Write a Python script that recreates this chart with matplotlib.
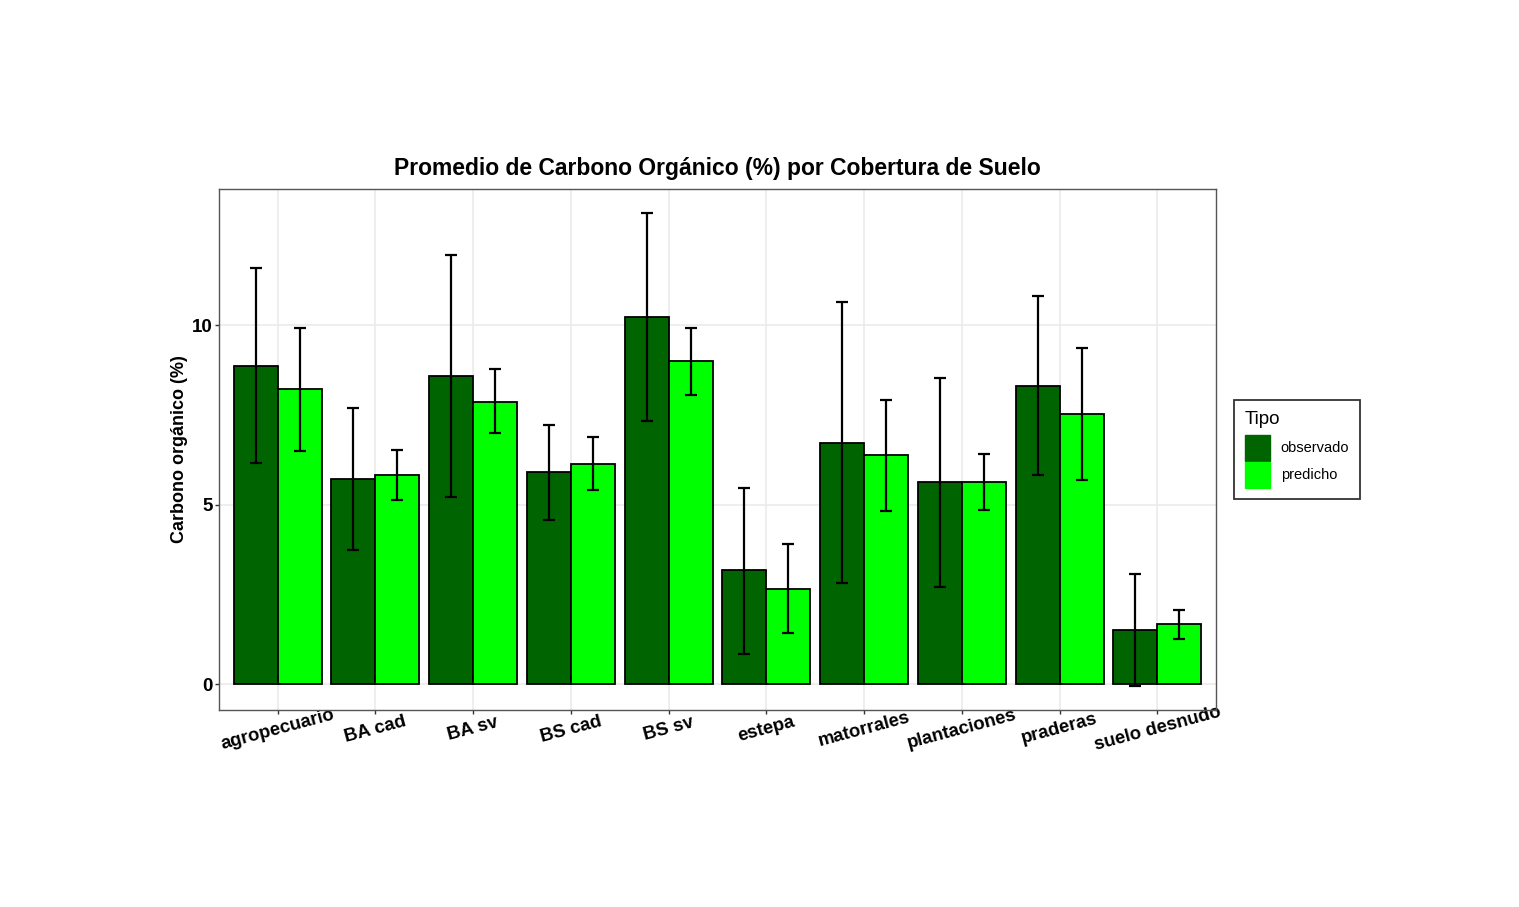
import matplotlib
matplotlib.use("Agg")
import matplotlib.pyplot as plt
import numpy as np
from matplotlib.patches import Patch

categories = ["agropecuario", "BA cad", "BA sv", "BS cad", "BS sv", "estepa",
              "matorrales", "plantaciones", "praderas", "suelo desnudo"]
obs_mean = [8.86, 5.72, 8.58, 5.92, 10.22, 3.17, 6.72, 5.64, 8.31, 1.50]
obs_lo   = [6.17, 3.75, 5.22, 4.58, 7.33, 0.83, 2.81, 2.72, 5.83, -0.06]
obs_hi   = [11.61, 7.69, 11.97, 7.22, 13.14, 5.47, 10.64, 8.53, 10.81, 3.06]
pred_mean = [8.22, 5.83, 7.86, 6.14, 9.00, 2.64, 6.39, 5.64, 7.53, 1.67]
pred_lo   = [6.50, 5.14, 7.00, 5.42, 8.06, 1.42, 4.83, 4.86, 5.69, 1.25]
pred_hi   = [9.94, 6.53, 8.78, 6.89, 9.94, 3.92, 7.92, 6.42, 9.36, 2.08]
yticks = [0, 5, 10]

plt.rcParams['font.family'] = ['Liberation Sans', 'DejaVu Sans']

fig = plt.figure(figsize=(15.19, 9.07), dpi=100)
ax = fig.add_axes([219/1519, 1-710/907, (1216-219)/1519, (710-189)/907])

x = np.arange(1, len(categories)+1)
w = 0.45
dark = "#006400"
light = "#00FF00"

ax.bar(x - w/2, obs_mean, width=w, color=dark, edgecolor="black", linewidth=1.3, zorder=3)
ax.bar(x + w/2, pred_mean, width=w, color=light, edgecolor="black", linewidth=1.3, zorder=3)

def errs(m, lo, hi):
    m = np.array(m); lo = np.array(lo); hi = np.array(hi)
    return np.vstack([m - lo, hi - m])

ax.errorbar(x - w/2, obs_mean, yerr=errs(obs_mean, obs_lo, obs_hi), fmt='none',
            ecolor='black', elinewidth=1.6, capsize=4.5, capthick=1.6, zorder=4)
ax.errorbar(x + w/2, pred_mean, yerr=errs(pred_mean, pred_lo, pred_hi), fmt='none',
            ecolor='black', elinewidth=1.6, capsize=4.5, capthick=1.6, zorder=4)

ax.set_xlim(0.4, len(categories) + 0.6)
ax.set_ylim(-0.72, 13.8)
ax.set_yticks(yticks)
ax.set_yticklabels([str(v) for v in yticks], fontsize=13.5, fontweight='bold')
ax.set_xticks(x)
ax.set_xticklabels(categories, rotation=15, fontsize=13.3, fontweight='bold',
                   ha='center', va='center', rotation_mode='anchor')
ax.tick_params(axis='both', length=2.8, color='#333333', width=1)
ax.tick_params(axis='x', pad=11)
ax.tick_params(axis='y', pad=1.5)

ax.grid(True, color='#EBEBEB', linewidth=1.2, zorder=0)
ax.set_axisbelow(True)
for s in ax.spines.values():
    s.set_color('#555555')
    s.set_linewidth(1.0)

ax.set_ylabel("Carbono orgánico (%)", fontsize=13, fontweight='bold', labelpad=3)
ax.set_title("Promedio de Carbono Orgánico (%) por Cobertura de Suelo",
             fontsize=16.5, fontweight='bold', pad=10)

handles = [Patch(facecolor=dark, edgecolor=dark), Patch(facecolor=light, edgecolor=light)]
leg = fig.legend(handles, ["observado", "predicho"], title="Tipo",
                 loc='upper left', bbox_to_anchor=(1234/1519, 1-400/907),
                 borderaxespad=0, frameon=True, fancybox=False,
                 fontsize=10.5, title_fontsize=13.5,
                 handlelength=1.7, handleheight=2.36, handletextpad=0.75,
                 labelspacing=0.07, borderpad=0.75, alignment='left')
leg._legend_box.sep = 5
leg.get_frame().set_edgecolor('black')
leg.get_frame().set_linewidth(1.3)

fig.savefig("out.png", dpi=100)
